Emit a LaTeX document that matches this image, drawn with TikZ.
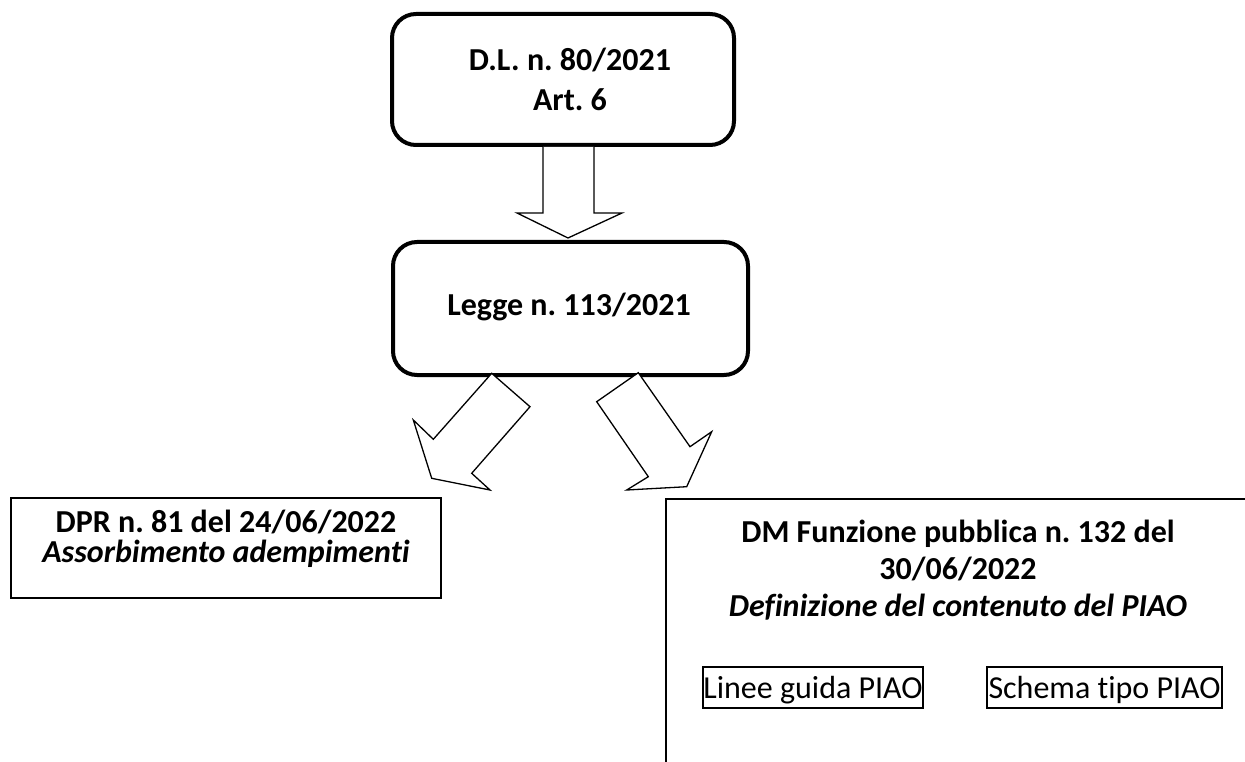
\documentclass[tikz,border=0pt]{standalone}
\usepackage{fontspec}
\setmainfont{Carlito}[Ligatures={NoCommon}]
\frenchspacing
\begin{document}
\begin{tikzpicture}[x=1pt,y=-1pt,
  rbox/.style={draw, line width=4pt, rounded corners=24pt, inner sep=0pt},
  sbox/.style={draw, line width=2pt, inner sep=0pt},
  blockarrow/.style={draw, line width=1.3pt, fill=white, line join=miter},
  txt/.style={inner sep=0pt, align=center},
  big/.style={font=\bfseries\fontsize{32}{40}\selectfont}
]
\useasboundingbox (0,0) rectangle (1245,762);
\clip (0,0) rectangle (1245,762);
% boxes
\node[rbox, minimum width=342pt, minimum height=131pt] (dl) at (563,79.5) {};
\node[rbox, minimum width=355pt, minimum height=133pt] (legge) at (570.5,308.5) {};
\node[sbox, minimum width=430pt, minimum height=100pt] (dpr) at (226,548) {};
\node[sbox, minimum width=640pt, minimum height=320pt] (dm) at (986,659) {};
\node[sbox, minimum width=220pt, minimum height=41pt] (linee) at (813,687.5) {};
\node[sbox, minimum width=235pt, minimum height=41pt] (schema) at (1104.5,687.5) {};
% texts
\node[txt, big] (dltext) at (570,79) {D.L. n. 80/2021\\Art. 6};
\node[txt, big, anchor=base] (leggetext) at (569,315) {Legge n. 113/2021};
\node[txt, font=\bfseries\fontsize{32}{30}\selectfont] (dprtext) at (226,539) {DPR n. 81 del 24/06/2022\\\textit{Assorbimento adempimenti}};
\node[txt, font=\bfseries\fontsize{32}{37}\selectfont] (dmtext) at (958,570) {DM Funzione pubblica n. 132 del\\30/06/2022\\\textit{Definizione del contenuto del PIAO}};
\node[txt, font=\fontsize{32}{38}\selectfont, anchor=base] (lineetext) at (813,698) {Linee guida PIAO};
\node[txt, font=\fontsize{32}{38}\selectfont, anchor=base] (schematext) at (1104.5,698) {Schema tipo PIAO};
% block arrows
\draw[blockarrow] (543,147) -- (543,213) -- (517,213) -- (568,238) -- (622,213) -- (594,213) -- (594,147);
\draw[blockarrow] (491.7,373.3) -- (530,406.7) -- (471.7,473.3) -- (490,490) -- (431.7,478.3) -- (413.3,420) -- (433.3,439.3) -- cycle;
\draw[blockarrow] (638.3,372.7) -- (596.7,401.7) -- (648.3,476.7) -- (626.7,490) -- (686.7,486.7) -- (711.7,431.7) -- (690,446.7) -- cycle;
\end{tikzpicture}
\end{document}
